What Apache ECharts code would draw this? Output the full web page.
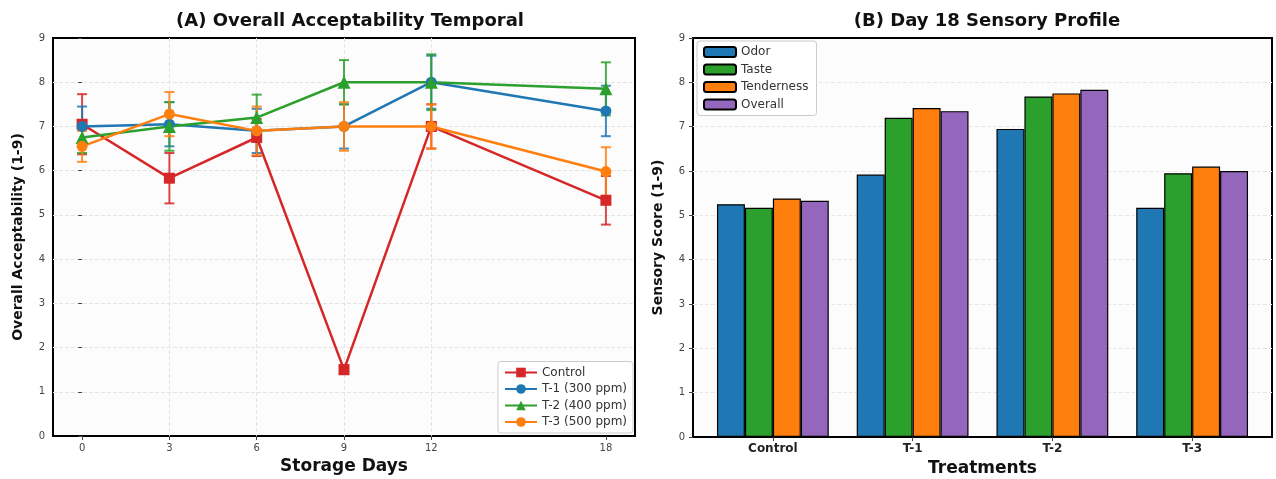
<!DOCTYPE html>
<html>
<head>
<meta charset="utf-8">
<script src="https://cdn.jsdelivr.net/npm/echarts@6/dist/echarts.min.js"></script>
<style>html,body{margin:0;padding:0;background:#fff}#c{width:1276px;height:479px}</style>
</head>
<body>
<div id="c"></div>
<script>
// ---- Panel A data ----
const days = [0, 3, 6, 9, 12, 18];
const dayTicks = [0, 3, 6, 9, 12, 18];
const seriesNamesA = ['Control', 'T-1 (300 ppm)', 'T-2 (400 ppm)', 'T-3 (500 ppm)'];
const controlMean = [7.05, 5.83, 6.75, 1.5, 7.0, 5.33];
const controlErr  = [0.68, 0.57, 0.42, 0.1, 0.5, 0.55];
const t1Mean = [7.0, 7.05, 6.9, 7.0, 8.0, 7.35];
const t1Err  = [0.45, 0.5, 0.5, 0.5, 0.6, 0.57];
const t2Mean = [6.75, 7.0, 7.2, 8.0, 8.0, 7.85];
const t2Err  = [0.35, 0.55, 0.52, 0.5, 0.63, 0.6];
const t3Mean = [6.55, 7.28, 6.9, 7.0, 7.0, 5.98];
const t3Err  = [0.35, 0.5, 0.55, 0.55, 0.5, 0.55];
// ---- Panel B data ----
const treatments = ['Control', 'T-1', 'T-2', 'T-3'];
const attributes = ['Odor', 'Taste', 'Tenderness', 'Overall'];
const odor       = [5.25, 5.92, 6.95, 5.17];
const taste      = [5.17, 7.2, 7.68, 5.95];
const tenderness = [5.38, 7.42, 7.75, 6.1];
const overall    = [5.33, 7.35, 7.83, 6.0];

const FONT = 'DejaVu Sans';
const colorsA = ['#d62728', '#1f77b4', '#2ca02c', '#ff7f0e'];
const symbolsA = ['rect', 'circle', 'triangle', 'circle'];
const colorsB = ['#1f77b4', '#2ca02c', '#ff7f0e', '#9467bd'];
const meansA = [controlMean, t1Mean, t2Mean, t3Mean];
const errsA = [controlErr, t1Err, t2Err, t3Err];
const barData = [odor, taste, tenderness, overall];

const chart = echarts.init(document.getElementById('c'));

const series = [];
meansA.forEach((m, i) => {
  const e = errsA[i];
  series.push({
    type: 'custom', name: seriesNamesA[i] + ' err', xAxisIndex: 0, yAxisIndex: 0,
    data: days.map((d, k) => [d, m[k] - e[k], m[k] + e[k]]),
    encode: { x: 0, y: [1, 2] }, z: 3, silent: true,
    renderItem: (params, api) => {
      const lo = api.coord([api.value(0), api.value(1)]);
      const hi = api.coord([api.value(0), api.value(2)]);
      const w = 5;
      const st = { stroke: colorsA[i], lineWidth: 2, opacity: 0.85 };
      return { type: 'group', children: [
        { type: 'line', shape: { x1: lo[0], y1: lo[1], x2: hi[0], y2: hi[1] }, style: st },
        { type: 'line', shape: { x1: lo[0] - w, y1: lo[1], x2: lo[0] + w, y2: lo[1] }, style: st },
        { type: 'line', shape: { x1: hi[0] - w, y1: hi[1], x2: hi[0] + w, y2: hi[1] }, style: st }
      ]};
    }
  });
});
meansA.forEach((m, i) => {
  series.push({
    type: 'line', name: seriesNamesA[i], xAxisIndex: 0, yAxisIndex: 0,
    data: days.map((d, k) => [d, m[k]]),
    symbol: symbolsA[i], symbolSize: symbolsA[i] === 'triangle' ? 13 : 11,
    lineStyle: { width: 2.5, color: colorsA[i] },
    itemStyle: { color: colorsA[i] }, z: 4
  });
});
barData.forEach((d, i) => {
  series.push({
    type: 'bar', name: attributes[i], xAxisIndex: 2, yAxisIndex: 2,
    data: d, barWidth: '20%', barGap: '0%',
    itemStyle: { color: colorsB[i], borderColor: '#000', borderWidth: 1.2 }
  });
});

const axisLabelStyle = { fontFamily: FONT, fontSize: 10, color: '#444' };
const split = (c) => ({ show: true, showMinLine: false, showMaxLine: false,
  lineStyle: { color: c, type: 'dashed', width: 1 } });
const titleStyle = { fontFamily: FONT, fontSize: 18, fontWeight: 'bold', color: '#111' };
const xNameStyle = { fontFamily: FONT, fontSize: 17, fontWeight: 'bold', color: '#111' };
const yNameStyle = { fontFamily: FONT, fontSize: 14, fontWeight: 'bold', color: '#111' };

chart.setOption({
  animation: false,
  backgroundColor: '#ffffff',
  title: [
    { text: '(A) Overall Acceptability Temporal', left: 345, top: 7, textAlign: 'center', textStyle: titleStyle },
    { text: '(B) Day 18 Sensory Profile', left: 982, top: 7, textAlign: 'center', textStyle: titleStyle }
  ],
  legend: [
    { data: seriesNamesA, orient: 'vertical', right: 643, bottom: 46, itemGap: 4.5,
      itemWidth: 32, itemHeight: 12, padding: [5, 6, 5, 6],
      backgroundColor: '#fff', borderColor: '#cccccc', borderWidth: 1, borderRadius: 3,
      textStyle: { fontFamily: FONT, fontSize: 12, color: '#333' } },
    { data: attributes, orient: 'vertical', left: 697, top: 41, itemGap: 5.5,
      itemWidth: 32, itemHeight: 10, padding: [5, 8, 5, 6],
      backgroundColor: '#fff', borderColor: '#cccccc', borderWidth: 1, borderRadius: 3,
      textStyle: { fontFamily: FONT, fontSize: 12, color: '#333' } }
  ],
  grid: [
    { left: 53, top: 38, width: 582, height: 398, show: true, backgroundColor: '#fcfcfc',
      borderColor: '#000', borderWidth: 2, outerBoundsMode: 'none', containLabel: false },
    { left: 693, top: 38, width: 579, height: 399, show: true, backgroundColor: '#fcfcfc',
      borderColor: '#000', borderWidth: 2, outerBoundsMode: 'none', containLabel: false },
    { left: 703, top: 38, width: 559, height: 399, show: false, outerBoundsMode: 'none', containLabel: false }
  ],
  xAxis: [
    { type: 'value', gridIndex: 0, min: -1, max: 19,
      name: 'Storage Days', nameLocation: 'middle', nameGap: 21, nameTextStyle: xNameStyle,
      axisLine: { show: false },
      axisTick: { show: true, customValues: dayTicks, length: 4, lineStyle: { color: '#444' } },
      axisLabel: Object.assign({ customValues: dayTicks, margin: 7 }, axisLabelStyle),
      splitLine: split('#e4e4e4') },
    { type: 'value', gridIndex: 1, min: 0, max: 1, show: false },
    { type: 'category', gridIndex: 2, data: treatments,
      name: 'Treatments', nameLocation: 'middle', nameGap: 21, nameTextStyle: xNameStyle,
      axisLine: { show: false },
      axisTick: { show: true, alignWithLabel: true, length: 4, lineStyle: { color: '#444' } },
      axisLabel: { fontFamily: FONT, fontSize: 12, fontWeight: 'bold', color: '#222', margin: 6 } }
  ],
  yAxis: [
    { type: 'value', gridIndex: 0, min: 0, max: 9, interval: 1,
      name: 'Overall Acceptability (1-9)', nameLocation: 'middle', nameGap: 28, nameTextStyle: yNameStyle,
      axisLine: { show: false }, axisTick: { show: true, length: 4, lineStyle: { color: '#444' } },
      axisLabel: Object.assign({ margin: 8 }, axisLabelStyle),
      splitLine: split('#e4e4e4') },
    { type: 'value', gridIndex: 1, min: 0, max: 9, interval: 1,
      name: 'Sensory Score (1-9)', nameLocation: 'middle', nameGap: 28, nameTextStyle: yNameStyle,
      axisLine: { show: false }, axisTick: { show: true, length: 4, lineStyle: { color: '#444' } },
      axisLabel: Object.assign({ margin: 8 }, axisLabelStyle),
      splitLine: split('#e8e8e8') },
    { type: 'value', gridIndex: 2, min: 0, max: 9, interval: 1, show: false }
  ],
  series: series
});
</script>
</body>
</html>
